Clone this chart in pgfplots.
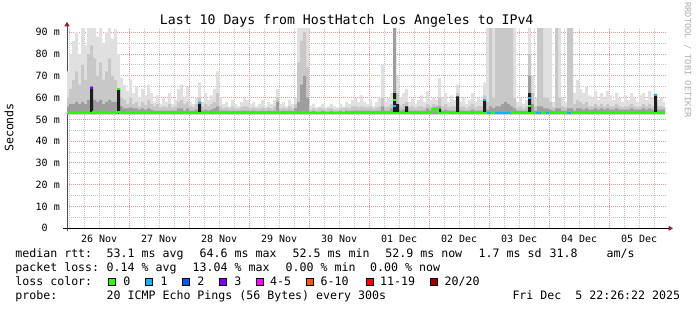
\documentclass[border=0pt]{standalone}
\usepackage{pgfplots}
\pgfplotsset{compat=1.18}
\usepackage{pgfplotstable}
\usepackage{fontspec}
\setmainfont{DejaVu Sans Mono}
\usetikzlibrary{arrows.meta}

\definecolor{cA}{RGB}{224,224,224}
\definecolor{cB}{RGB}{200,200,200}
\definecolor{cC}{RGB}{158,158,158}
\definecolor{cD}{RGB}{30,30,30}
\definecolor{lc0}{HTML}{26FF00}
\definecolor{lc1}{HTML}{00B8FF}
\definecolor{lc2}{HTML}{0059FF}
\definecolor{lc3}{HTML}{7E00FF}
\definecolor{lc4}{HTML}{FF00FF}
\definecolor{lc6}{HTML}{FF5500}
\definecolor{lc11}{HTML}{FF0000}
\definecolor{lc20}{HTML}{A00000}
\definecolor{mgrid}{RGB}{236,150,150}
\definecolor{ngrid}{RGB}{195,195,195}
\definecolor{arrowc}{RGB}{150,30,30}
\definecolor{wm}{RGB}{175,175,175}

% time t in days since 26 Nov 00:00; a,b,c,d = smoke layer tops (ms), m = median rtt (ms)
\pgfplotstableread{
t a b c d m
-0.05 72 60 56 52.4 53.0
0.00 80 64 57 52.4 53.0
0.05 86 68 57 52.4 53.1
0.10 90 72 58 52.4 53.0
0.15 80 66 57 52.4 53.0
0.20 92 75 58 52.4 53.2
0.25 84 68 57 52.4 53.0
0.30 93 80 59 52.4 53.0
0.35 93 84 60 65 53.0
0.40 93 78 59 52.4 53.3
0.45 88 70 58 52.4 53.0
0.50 93 76 59 52.4 53.0
0.55 85 68 57 52.4 53.3
0.60 90 72 58 52.4 53.0
0.65 93 78 59 52.4 53.0
0.70 87 70 58 52.4 53.1
0.75 91 68 58 52.4 53.0
0.80 80 64 57 64 53.4
0.85 69 60 56 52.4 53.0
0.90 66 59 55 52.4 53.0
0.95 63 57 55 52.4 53.0
1.00 68 60 55.5 52.4 53.0
1.05 62 57 55 52.4 53.0
1.10 65 58 55 52.4 53.0
1.15 60 56 54.5 52.4 53.0
1.20 64 58 55 52.4 53.0
1.25 61 56.5 54.5 52.4 53.0
1.30 66 59 55 52.4 53.0
1.35 62 57 54.5 52.4 53.0
1.40 58 56 54 52.4 53.0
1.45 61 57 54 52.4 53.0
1.50 57 55.5 54 52.4 53.0
1.55 60 56 54 52.4 53.0
1.60 58 55.5 54 52.4 53.0
1.65 62 57 54 52.4 53.0
1.70 57 55.5 54 52.4 53.0
1.75 59 56 54 52.4 53.0
1.80 64 58 55 52.4 53.0
1.85 66 59 55 52.4 53.0
1.90 60 57 54 52.4 53.0
1.95 65 58 55 52.4 53.0
2.00 58 56 54 52.4 53.0
2.05 57 55.5 54 52.4 53.0
2.10 60 57 54.5 52.4 53.0
2.15 67 60 56 58 53.0
2.20 58 56 54 52.4 53.0
2.25 62 57 54.5 52.4 53.0
2.30 59 56 54 52.4 53.0
2.35 61 57 54.5 52.4 53.0
2.40 64 58 55 52.4 53.0
2.45 72 62 56 52.4 53.0
2.50 60 56 54 52.4 53.0
2.55 57 55 54 52.4 53.0
2.60 58 55.5 54 52.4 53.0
2.65 56 55 53.8 52.4 53.0
2.70 59 56 54 52.4 53.0
2.75 57 55 53.8 52.4 53.0
2.80 56 55 53.8 52.4 53.0
2.85 58 55.5 54 52.4 53.0
2.90 60 56 54 52.4 53.0
2.95 59 56 54 52.4 53.0
3.00 57 55 53.8 52.4 53.0
3.05 58 55.5 54 52.4 53.0
3.10 56 55 53.8 52.4 53.0
3.15 57 55 53.8 52.4 53.0
3.20 59 55.5 54 52.4 53.0
3.25 56 55 53.8 52.4 53.0
3.30 58 55.5 54 52.4 53.0
3.35 57 55 53.8 52.4 53.0
3.40 59 56 54 52.4 53.0
3.45 64 60 58 52.4 53.0
3.50 57 55 53.8 52.4 53.0
3.55 58 55.5 54 52.4 53.0
3.60 56 55 53.8 52.4 53.0
3.65 59 56 54 52.4 53.0
3.70 57 55 53.8 52.4 53.0
3.75 60 57 55 52.4 53.0
3.80 93 76 58 52.4 53.0
3.85 93 86 66 52.4 52.9
3.90 93 90 70 52.4 53.0
3.95 93 74 60 52.4 52.8
4.00 56 54.5 53.5 52.4 52.7
4.05 57 55 53.8 52.4 52.7
4.10 55.5 54.5 53.5 52.4 52.7
4.15 56 55 53.5 52.4 52.7
4.20 57 55 53.8 52.4 52.7
4.25 55.5 54.5 53.5 52.4 52.7
4.30 56 55 53.5 52.4 52.7
4.35 57 55 53.8 52.4 52.7
4.40 56 54.5 53.5 52.4 52.7
4.45 55.5 54.5 53.5 52.4 52.7
4.50 57 55 53.8 52.4 52.8
4.55 56 55 53.5 52.4 52.8
4.60 58 55.5 54 52.4 52.8
4.65 57 55 53.8 52.4 52.8
4.70 59 56 54 52.4 52.8
4.75 60 56 54 52.4 52.8
4.80 58 55.5 54 52.4 52.8
4.85 61 56 54 52.4 52.9
4.90 58 55.5 54 52.4 52.9
4.95 57 55.5 54 52.4 52.9
5.00 59 56 54 52.4 53.0
5.05 56 55 53.8 52.4 53.0
5.10 58 55.5 54 52.4 53.0
5.15 60 56 54 52.4 53.0
5.20 75 60 56 52.4 53.0
5.25 58 55.5 54 52.4 53.0
5.30 60 56 54 52.4 53.0
5.35 62 57 55 52.4 53.0
5.40 93 93 93 62 53.0
5.45 70 62 57 57 53.0
5.50 60 56 54 52.4 53.0
5.55 62 57 54.5 52.4 53.0
5.60 64 58 56 56 53.0
5.65 58 55.5 54 52.4 53.0
5.70 60 56 54 52.4 53.0
5.75 57 55 54 52.4 53.0
5.80 59 56 54 52.4 53.0
5.85 61 56 54 52.4 53.0
5.90 58 55.5 54 52.4 53.0
5.95 63 57 55 52.4 53.0
6.00 59 56 54 52.4 53.0
6.05 60 57 55.5 52.4 54.6
6.10 59 56.5 55.5 52.4 54.6
6.15 69 60 56 54.8 53.0
6.20 60 56 54 52.4 53.0
6.25 62 57 54.5 52.4 53.0
6.30 58 55.5 54 52.4 53.0
6.35 61 56 54 52.4 53.0
6.40 59 56 54 52.4 53.0
6.45 66 62 58 60.5 53.0
6.50 58 55.5 54 52.4 53.0
6.55 60 56 54 52.4 53.0
6.60 57 55 53.8 52.4 53.0
6.65 59 56 54 52.4 53.0
6.70 62 57 54.5 52.4 53.0
6.75 58 55.5 54 52.4 53.0
6.80 60 56 54 52.4 53.0
6.85 59 56 54 52.4 53.0
6.90 67 61 57 59 53.0
6.95 93 58 54.5 52.4 53.0
7.00 93 93 56 52.4 53.0
7.05 93 60 55 52.4 53.0
7.10 93 93 56 52.4 53.0
7.15 93 93 56 52.4 53.0
7.20 93 93 57 52.4 53.0
7.25 93 93 58 52.4 53.0
7.30 93 93 57 52.4 53.0
7.35 93 93 56 52.4 53.0
7.40 93 60 55 52.4 53.0
7.45 58 55.5 54 52.4 53.0
7.50 60 56 54 52.4 53.0
7.55 57 55 53.8 52.4 53.0
7.60 59 56 54 52.4 53.0
7.65 93 80 70 62 53.0
7.70 70 62 57 52.4 53.0
7.75 60 56 54 52.4 53.0
7.80 93 93 56 52.4 53.0
7.85 93 93 56 52.4 53.0
7.90 93 60 55 52.4 53.0
7.95 93 60 55 52.4 53.0
8.00 93 58 54.5 52.4 53.0
8.05 58 55.5 54 52.4 53.0
8.10 93 93 55 52.4 53.0
8.15 93 60 55 52.4 53.0
8.20 60 56 54 52.4 53.0
8.25 58 55.5 54 52.4 53.0
8.30 93 93 55 52.4 53.0
8.35 93 93 55 52.4 53.0
8.40 62 57 54 52.4 53.0
8.45 68 59 55 52.4 53.0
8.50 64 58 55 52.4 53.0
8.55 62 57 54.5 52.4 53.0
8.60 65 58 55 52.4 53.0
8.65 61 56 54.5 52.4 53.0
8.70 60 56 54.5 52.4 53.0
8.75 63 57 55 52.4 53.0
8.80 59 56 54.5 52.4 53.0
8.85 62 57 55 52.4 53.0
8.90 60 56 54.5 52.4 53.0
8.95 63 57 55 52.4 53.0
9.00 61 56 54.5 52.4 53.0
9.05 59 56 54.5 52.4 53.0
9.10 62 57 55 52.4 53.0
9.15 60 56 54.5 52.4 53.0
9.20 58 55.5 54.5 52.4 53.0
9.25 61 56 54.5 52.4 53.0
9.30 59 56 54.5 52.4 53.0
9.35 62 57 55 52.4 53.0
9.40 60 56 54.5 52.4 53.0
9.45 58 55.5 54.5 52.4 53.0
9.50 61 56 54.5 52.4 53.0
9.55 62 57 55 52.4 53.0
9.60 59 56 54.5 52.4 53.0
9.65 63 57 55 52.4 53.0
9.70 60 56 54.5 52.4 53.0
9.75 62 58 56 61 53.0
9.80 59 56 54.5 52.4 53.0
9.85 60 56 54.5 52.4 53.0
9.90 58 55.5 54.5 52.4 52.9
9.933 58 55.5 54.5 52.4 52.9
}\smoke

% median segments with 1/20 loss
\pgfplotstableread{
t m
6.97 53.0
7.03 53.0
7.03 nan
7.10 53.0
7.36 53.0
7.36 nan
7.78 53.0
7.87 53.0
7.87 nan
7.95 53.0
8.00 53.0
8.00 nan
8.30 53.0
8.36 53.0
}\lossone

\newcommand\lf{\fontsize{11.6bp}{14bp}\selectfont}

\begin{document}
\begin{tikzpicture}[x=1bp,y=1bp]
\useasboundingbox (0,0) rectangle (697,310);
\begin{axis}[
  at={(67bp,81.7bp)}, anchor=south west,
  width=600bp, height=200bp, scale only axis,
  xmin=-0.035, xmax=9.965, ymin=0, ymax=91.8,
  axis x line*=bottom, axis y line*=left,
  x axis line style={black, line width=1bp, shorten <=-4bp, shorten >=-6bp,
     -{Triangle[length=4.5bp,width=5bp,color=arrowc]}},
  y axis line style={black!70, line width=1bp, shorten <=-3bp, shorten >=-6.5bp,
     -{Triangle[length=4.5bp,width=5bp,color=arrowc]}},
  xtick={1,2,...,9}, xticklabels={},
  minor xtick={0,0.25,...,9.75},
  extra x ticks={0.5,1.5,2.5,3.5,4.5,5.5,6.5,7.5,8.5,9.5},
  extra x tick labels={26 Nov,27 Nov,28 Nov,29 Nov,30 Nov,01 Dec,02 Dec,03 Dec,04 Dec,05 Dec},
  extra x tick style={grid=none, major tick length=0pt},
  ytick={0,10,...,90},
  yticklabels={0\hphantom{~m},10 m,20 m,30 m,40 m,50 m,60 m,70 m,80 m,90 m},
  minor ytick={5,15,...,85},
  grid=both,
  major grid style={mgrid, dash pattern=on 1bp off 1bp, line width=1bp},
  minor grid style={ngrid, dash pattern=on 1bp off 1bp, line width=1bp},
  major tick length=0pt, minor tick length=0pt,
  tick label style={font=\fontsize{10bp}{12bp}\selectfont, inner sep=0pt, text=black},
  yticklabel style={anchor=east, xshift=-7bp},
  xticklabel style={anchor=north, yshift=-6.5bp},
  clip=true,
]
\addplot[fill=cA, draw=none, const plot] table[x=t, y=a]{\smoke} -- (axis cs:9.933,52.4) -- (axis cs:-0.05,52.4) -- cycle;
\addplot[fill=cB, draw=none, const plot] table[x=t, y=b]{\smoke} -- (axis cs:9.933,52.4) -- (axis cs:-0.05,52.4) -- cycle;
\addplot[fill=cC, draw=none, const plot] table[x=t, y=c]{\smoke} -- (axis cs:9.933,52.4) -- (axis cs:-0.05,52.4) -- cycle;
\addplot[fill=cD, draw=none, const plot] table[x=t, y=d]{\smoke} -- (axis cs:9.933,52.4) -- (axis cs:-0.05,52.4) -- cycle;
\addplot[lc0, line width=2bp, const plot] table[x=t, y=m]{\smoke};
\addplot[lc1, line width=2bp, unbounded coords=jump] table[x=t, y=m]{\lossone};
% median values at the loss spikes
\addplot[lc3, line width=2bp] coordinates {(0.35,64.5) (0.40,64.5)};
\addplot[lc0, line width=2bp] coordinates {(0.80,64) (0.85,64)};
\addplot[lc1, line width=2bp] coordinates {(2.15,57.5) (2.20,57.5)};
\addplot[lc0, line width=2bp] coordinates {(5.40,58.8) (5.45,58.8)};
\addplot[lc1, line width=2bp] coordinates {(5.40,56) (5.45,56)};
\addplot[lc1, line width=2bp] coordinates {(6.90,58.7) (6.95,58.7)};
\addplot[lc1, line width=2bp] coordinates {(7.65,59.6) (7.70,59.6)};
\addplot[lc0, line width=2bp] coordinates {(7.65,56) (7.70,56)};
\addplot[lc1, line width=2bp] coordinates {(9.75,61) (9.80,61)};
\end{axis}

% title, axis label, watermark
\node[anchor=base, inner sep=0pt, font=\fontsize{13.2bp}{15bp}\selectfont] at (346.7,286) {Last 10 Days from HostHatch Los Angeles to IPv4};
\node[rotate=90, anchor=base, inner sep=0pt, font=\lf] at (13.3,182.5) {Seconds};
\node[rotate=-90, anchor=base, inner sep=0pt, text=wm, font=\fontsize{8.7bp}{10bp}\selectfont] at (684.8,250) {RRDTOOL / TOBI OETIKER};

% legend
\begin{scope}[every node/.style={anchor=base west, inner sep=0pt, font=\lf}]
\node at (15.2,52.3) {median rtt:};
\node at (106.5,52.3) {53.1 ms avg};
\node at (199.5,52.3) {64.6 ms max};
\node at (292.5,52.3) {52.5 ms min};
\node at (385.2,52.3) {52.9 ms now};
\node at (478.5,52.3) {1.7 ms sd};
\node at (549.5,52.3) {31.8};
\node at (606.5,52.3) {am/s};
\node at (15.2,38.6) {packet loss:};
\node at (106.5,38.6) {0.14 \% avg};
\node at (192.5,38.6) {13.04 \% max};
\node at (285.5,38.6) {0.00 \% min};
\node at (370,38.6) {0.00 \% now};
\node at (15.2,24.8) {loss color:};
\node at (123.2,24.8) {0};
\node at (160.5,24.8) {1};
\node at (197.2,24.8) {2};
\node at (234.2,24.8) {3};
\node at (270,24.8) {4-5};
\node at (320.5,24.8) {6-10};
\node at (380,24.8) {11-19};
\node at (444.5,24.8) {20/20};
\node at (15.2,10.8) {probe:};
\node at (106.5,10.8) {20 ICMP Echo Pings (56 Bytes) every 300s};
\node at (512.3,10.8) {Fri Dec~~5 22:26:22 2025};
\end{scope}
\foreach \bx/\bc in {108.7/lc0,145.7/lc1,182.7/lc2,219.3/lc3,256/lc4,306.7/lc6,366/lc11,430.7/lc20}{
  \draw[black, line width=1bp, fill=\bc] (\bx,24.8) rectangle ++(7,7);
}
\end{tikzpicture}
\end{document}
